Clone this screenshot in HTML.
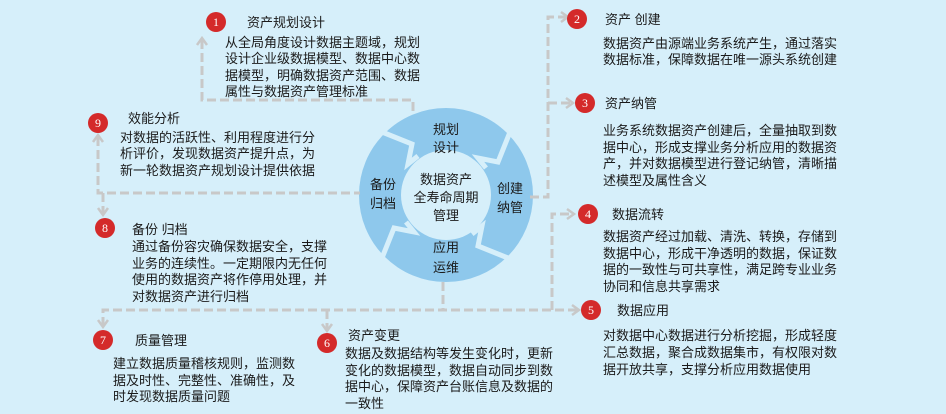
<!DOCTYPE html>
<html><head><meta charset="utf-8"><style>
body{margin:0;background:#d6effa;}
svg{display:block}
text{font-family:"Liberation Sans","Noto Sans CJK SC",sans-serif;font-size:13px;fill:#1a1a1a;}
.b{fill:#fff;font-size:12px;text-anchor:middle;font-family:"Liberation Serif",serif}
.d{fill:none;stroke:#c8c8c8;stroke-width:3;stroke-dasharray:9 4}
.a{fill:none;stroke:#c8c8c8;stroke-width:2.5}
</style></head><body>
<svg width="946" height="414" viewBox="0 0 946 414">
<rect width="946" height="414" fill="#d6effa"/>
<!-- ring -->
<circle cx="446" cy="195" r="87" fill="#8ec8ec"/>
<circle cx="446" cy="195" r="45" fill="#d6effa"/>
<g stroke="#d6effa" stroke-width="5" fill="none">
<polyline points="510,132 498,162 478,158 486,168"/>
<polyline points="508,258 478,246 482,226 472,234"/>
<polyline points="382,258 394,228 414,232 406,222"/>
<polyline points="382,132 412,144 408,164 418,156"/>
</g>
<g text-anchor="middle">
<text x="446" y="134">规划</text><text x="446" y="152">设计</text>
<text x="510" y="193">创建</text><text x="510" y="212">纳管</text>
<text x="446" y="252">应用</text><text x="446" y="272">运维</text>
<text x="383" y="189">备份</text><text x="383" y="208">归档</text>
<text x="446" y="184">数据资产</text><text x="446" y="202">全寿命周期</text><text x="446" y="220">管理</text>
</g>
<!-- connectors -->
<polyline class="d" points="202,40 202,100 413,100 413,112"/>
<polyline class="a" points="197,45 202,38 207,45"/>
<polyline class="d" points="98,137 98,193 360,193"/>
<polyline class="a" points="93,142 98,135 103,142"/>
<polyline class="d" points="103,193 103,214"/>
<polyline class="a" points="98,208 103,215 108,208"/>
<polyline class="d" points="443,282 443,310"/>
<polyline class="d" points="103,326 103,310 578,310"/>
<polyline class="a" points="98,320 103,327 108,320"/>
<polyline class="d" points="327,310 327,330"/>
<polyline class="a" points="322,324 327,331 332,324"/>
<polyline class="a" points="572,305 579,310 572,315"/>
<polyline class="d" points="552,310 552,214 573,214"/>
<polyline class="a" points="567,209 574,214 567,219"/>
<polyline class="d" points="530,197 548,197 548,17 566,17"/>
<polyline class="a" points="561,12 568,17 561,22"/>
<polyline class="d" points="548,103 571,103"/>
<polyline class="a" points="566,98 573,103 566,108"/>
<!-- badges -->
<g fill="#d42a2a">
<circle cx="216" cy="22" r="10"/><circle cx="98" cy="123" r="10"/><circle cx="105" cy="228" r="10"/>
<circle cx="103" cy="340" r="10"/><circle cx="327" cy="343" r="10"/><circle cx="577" cy="19" r="10"/>
<circle cx="585" cy="103" r="10"/><circle cx="588" cy="214" r="10"/><circle cx="591" cy="310" r="10"/>
</g>
<text class="b" x="216" y="26">1</text><text class="b" x="98" y="127">9</text><text class="b" x="105" y="232">8</text>
<text class="b" x="103" y="344">7</text><text class="b" x="327" y="347">6</text><text class="b" x="577" y="23">2</text>
<text class="b" x="585" y="107">3</text><text class="b" x="588" y="218">4</text><text class="b" x="591" y="314">5</text>
<!-- texts -->
<text x="247" y="27">资产规划设计</text>
<text x="225" y="47">从全局角度设计数据主题域，规划</text>
<text x="225" y="63">设计企业级数据模型、数据中心数</text>
<text x="225" y="80">据模型，明确数据资产范围、数据</text>
<text x="225" y="96">属性与数据资产管理标准</text>

<text x="128" y="123">效能分析</text>
<text x="120" y="142">对数据的活跃性、利用程度进行分</text>
<text x="120" y="158">析评价，发现数据资产提升点，为</text>
<text x="120" y="175">新一轮数据资产规划设计提供依据</text>

<text x="132" y="234">备份 归档</text>
<text x="132" y="251">通过备份容灾确保数据安全，支撑</text>
<text x="132" y="268">业务的连续性。一定期限内无任何</text>
<text x="132" y="284">使用的数据资产将作停用处理，并</text>
<text x="132" y="301">对数据资产进行归档</text>

<text x="135" y="345">质量管理</text>
<text x="113" y="368">建立数据质量稽核规则，监测数</text>
<text x="113" y="385">据及时性、完整性、准确性，及</text>
<text x="113" y="401">时发现数据质量问题</text>

<text x="348" y="340">资产变更</text>
<text x="345" y="358">数据及数据结构等发生变化时，更新</text>
<text x="345" y="375">变化的数据模型，数据自动同步到数</text>
<text x="345" y="391">据中心，保障资产台账信息及数据的</text>
<text x="345" y="408">一致性</text>

<text x="605" y="24">资产 创建</text>
<text x="603" y="48">数据资产由源端业务系统产生，通过落实</text>
<text x="603" y="64">数据标准，保障数据在唯一源头系统创建</text>

<text x="605" y="108">资产纳管</text>
<text x="603" y="135">业务系统数据资产创建后，全量抽取到数</text>
<text x="603" y="152">据中心，形成支撑业务分析应用的数据资</text>
<text x="603" y="168">产，并对数据模型进行登记纳管，清晰描</text>
<text x="603" y="185">述模型及属性含义</text>

<text x="612" y="219">数据流转</text>
<text x="603" y="241">数据资产经过加载、清洗、转换，存储到</text>
<text x="603" y="258">数据中心，形成干净透明的数据，保证数</text>
<text x="603" y="274">据的一致性与可共享性，满足跨专业业务</text>
<text x="603" y="291">协同和信息共享需求</text>

<text x="617" y="315">数据应用</text>
<text x="603" y="340">对数据中心数据进行分析挖掘，形成轻度</text>
<text x="603" y="357">汇总数据，聚合成数据集市，有权限对数</text>
<text x="603" y="374">据开放共享，支撑分析应用数据使用</text>
</svg>
</body></html>
